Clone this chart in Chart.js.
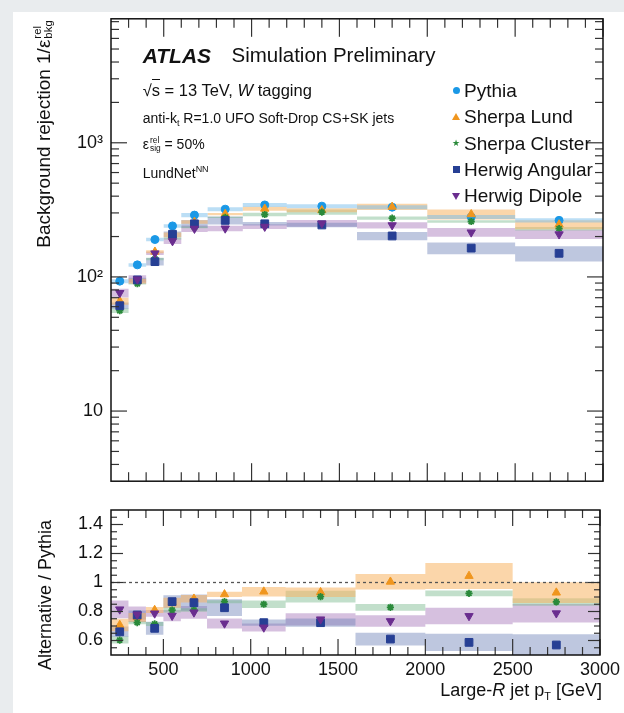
<!DOCTYPE html>
<html><head><meta charset="utf-8">
<script src="https://cdn.jsdelivr.net/npm/chart.js@4.4.0/dist/chart.umd.min.js"></script>
<style>
body{margin:0;background:#e9ecee;width:624px;height:713px;overflow:hidden;position:relative;font-family:"Liberation Sans",Arial,sans-serif;color:#111}
#panel{position:absolute;left:13px;top:12px;width:611px;height:701px;background:#fff}
canvas{position:absolute;left:0}
.t{position:absolute;white-space:nowrap;line-height:1}
.ss{display:inline-flex;flex-direction:column;vertical-align:middle;font-size:0.6em;line-height:0.95;position:relative;top:-0.15em;margin-left:1px}
.rot{position:absolute;white-space:nowrap;line-height:1;transform:translate(-50%,-50%) rotate(-90deg)}
.mk{position:absolute;width:0;height:0}
</style></head><body>
<div id="panel"></div>
<canvas id="topc" width="624" height="500" style="top:0"></canvas>
<canvas id="botc" width="624" height="223" style="top:490px"></canvas>

<div class="t" style="left:142.7px;top:44.5px;font-size:21px;font-weight:bold;font-style:italic">ATLAS</div>
<div class="t" style="left:231.5px;top:45px;font-size:20.5px">Simulation Preliminary</div>
<div class="t" style="left:142.7px;top:82px;font-size:16.5px">√<span style="border-top:1px solid #111;padding-top:1px">s</span> = 13 TeV, <i>W</i> tagging</div>
<div class="t" style="left:142.7px;top:111.4px;font-size:14px">anti-k<sub style="font-size:9px;vertical-align:-3px">t</sub> R=1.0 UFO Soft-Drop CS+SK jets</div>
<div class="t" style="left:142.7px;top:137px;font-size:14px">ε<span class="ss"><span>rel</span><span>sig</span></span> = 50%</div>
<div class="t" style="left:142.7px;top:164.8px;font-size:14px">LundNet<sup style="font-size:9px;vertical-align:6px">NN</sup></div>

<div class="rot" style="left:45px;top:134px;font-size:19px">Background rejection 1/ε<span class="ss"><span>rel</span><span>bkg</span></span></div>
<div class="rot" style="left:45px;top:595px;font-size:18px">Alternative / Pythia</div>
<div class="t" style="right:22px;top:681px;font-size:18px">Large-<i>R</i> jet p<sub style="font-size:11px;vertical-align:-4px">T</sub> [GeV]</div>

<div id="legend"></div>

<script>
// ---------------- data ----------------
const binEdges   = [200,300,400,500,600,750,950,1200,1600,2000,2500,3000];
const binCenters = [250,350,450,550,675,850,1075,1400,1800,2250,2750];

const seriesNames = ["Pythia","Sherpa Lund","Sherpa Cluster","Herwig Angular","Herwig Dipole"];

// background rejection (top panel)
const pythia        = [93,123,190,240,289,320,344,337,331,280,264];
const sherpaLund    = [66,93,154,206,257,294,322,314,333,293,246];
const sherpaCluster = [56,89,136,194,234,278,292,304,274,259,229];
const herwigAngular = [61,95,130,208,249,264,249,244,202,164,150];
const herwigDipole  = [76,96,150,185,229,230,237,251,243,215,208];

// ratio to Pythia (bottom panel)
const ratioLund     = [0.707,0.76,0.81,0.86,0.888,0.918,0.937,0.933,1.005,1.045,0.93];
const ratioCluster  = [0.603,0.723,0.714,0.81,0.81,0.868,0.85,0.902,0.829,0.925,0.866];
const ratioAngular  = [0.66,0.776,0.684,0.868,0.861,0.826,0.723,0.723,0.61,0.587,0.569];
const ratioDipole   = [0.815,0.78,0.787,0.771,0.794,0.718,0.69,0.746,0.734,0.769,0.788];

// relative uncertainties (band half-widths)
const uncPythia   = [0.035,0.03,0.03,0.03,0.035,0.035,0.035,0.035,0.035,0.035,0.035];
const uncLund     = [0.06,0.04,0.025,0.04,0.03,0.02,0.035,0.035,0.053,0.086,0.077];
const uncCluster  = [0.04,0.015,0.02,0.02,0.015,0.012,0.03,0.045,0.028,0.022,0.03];
const uncAngular  = [0.055,0.04,0.065,0.05,0.065,0.07,0.03,0.04,0.072,0.1,0.13];
const uncDipole   = [0.075,0.07,0.03,0.05,0.055,0.048,0.04,0.057,0.054,0.075,0.08];

// ticks
const xTickValues    = [500,1000,1500,2000,2500,3000];
const xTickLabels    = ["500","1000","1500","2000","2500","3000"];
const xMinorTicks    = [300,400,600,700,800,900,1100,1200,1300,1400,1600,1700,1800,1900,2100,2200,2300,2400,2600,2700,2800,2900];
const topYTickValues = [10,100,1000];
const topYTickLabels = ["10","10²","10³"];
const topYMinorTicks = [4,5,6,7,8,9,20,30,40,50,60,70,80,90,200,300,400,500,600,700,800,900,2000,3000,4000,5000,6000,7000,8000];
const botYTickValues = [0.6,0.8,1,1.2,1.4];
const botYTickLabels = ["0.6","0.8","1","1.2","1.4"];
const botYMinorTicks = [0.55,0.65,0.7,0.75,0.85,0.9,0.95,1.05,1.1,1.15,1.25,1.3,1.35,1.45];
const ratioRef = [1,1];

// ---------------- styles ----------------
const FONT = '"Liberation Sans", Arial, sans-serif';
const markerColors = ['#1a98e6','#f0961e','#2a8a3a','#263f94','#6a2d8f'];
const bandColors = ['rgba(120,190,235,0.5)','rgba(248,180,100,0.55)','rgba(120,185,140,0.45)','rgba(110,130,185,0.45)','rgba(165,115,185,0.45)'];
const styles = [
  {pointStyle:'circle', r:4, rot:0, bw:1},
  {pointStyle:'triangle', r:4.8, rot:0, bw:1},
  {pointStyle:'star', r:3.6, rot:0, bw:1.8},
  {pointStyle:'rect', r:5.5, rot:0, bw:1},
  {pointStyle:'triangle', r:4.8, rot:180, bw:1},
];

function bandSets(vals, unc, idx) {
  const n = vals.length;
  const pts = s => binEdges.map((x,i)=>{const k=Math.min(i,n-1); return {x, y: vals[k]*(1+s*unc[k])};});
  return [
    {data: pts(1), stepped:'before', borderWidth:0, pointRadius:0, fill:false, order:10+idx, backgroundColor:bandColors[idx], borderColor:'rgba(0,0,0,0)'},
    {data: pts(-1), stepped:'before', borderWidth:0, pointRadius:0, fill:'-1', order:10+idx, backgroundColor:bandColors[idx], borderColor:'rgba(0,0,0,0)'}
  ];
}
function markerSet(vals, idx) {
  const s = styles[idx];
  return {data: binCenters.map((x,i)=>({x, y: vals[i]})), showLine:false, order: idx===0 ? 4 : 3-idx,
    pointStyle:s.pointStyle, pointRadius:s.r, pointRotation:s.rot, pointBorderWidth:s.bw,
    pointBackgroundColor:markerColors[idx], pointBorderColor:markerColors[idx], borderColor:markerColors[idx], backgroundColor:markerColors[idx]};
}

const framePlugin = {
  id:'frame',
  afterDraw(chart, args, o) {
    const {ctx, chartArea:a, scales:{x, y}} = chart;
    ctx.save();
    ctx.strokeStyle = '#333'; ctx.lineWidth = 1.2;
    const seg = (x1,y1,x2,y2)=>{ctx.beginPath(); ctx.moveTo(x1,y1); ctx.lineTo(x2,y2); ctx.stroke();};
    const xt = (vals,len)=>vals.forEach(v=>{const p=x.getPixelForValue(v); seg(p,a.bottom,p,a.bottom-len); seg(p,a.top,p,a.top+len);});
    const yt = (vals,len)=>vals.forEach(v=>{const p=y.getPixelForValue(v); seg(a.left,p,a.left+len,p); seg(a.right,p,a.right-len,p);});
    xt(o.xMajor,o.xMajLen); xt(o.xMinor,o.xMinLen);
    yt(o.yMajor,o.yMajLen); yt(o.yMinor,o.yMinLen);
    ctx.strokeStyle = '#111'; ctx.lineWidth = 1.5;
    ctx.strokeRect(a.left, a.top, a.right-a.left, a.bottom-a.top);
    ctx.restore();
  }
};

const topVals = [pythia, sherpaLund, sherpaCluster, herwigAngular, herwigDipole];
const uncs = [uncPythia, uncLund, uncCluster, uncAngular, uncDipole];
const ratios = [null, ratioLund, ratioCluster, ratioAngular, ratioDipole];

const topDatasets = [];
topVals.forEach((v,i)=>topDatasets.push(...bandSets(v, uncs[i], i)));
topVals.forEach((v,i)=>topDatasets.push(markerSet(v, i)));

const botDatasets = [];
for (let i=1;i<5;i++) botDatasets.push(...bandSets(ratios[i], uncs[i], i));
botDatasets.push({data:[{x:binEdges[0],y:ratioRef[0]},{x:binEdges[binEdges.length-1],y:ratioRef[1]}], borderColor:'#555', borderWidth:1.3, borderDash:[3,3], pointRadius:0, fill:false, order:5});
for (let i=1;i<5;i++) botDatasets.push(markerSet(ratios[i], i));

const noGrid = {display:false, drawTicks:false};
const common = {responsive:false, animation:false, devicePixelRatio:1, events:[],
  plugins:{legend:{display:false}, tooltip:{enabled:false}}};

new Chart(document.getElementById('topc'), {
  type:'line',
  data:{datasets: topDatasets},
  options:{...common,
    layout:{padding:{top:17, right:21, left:0, bottom:0}},
    scales:{
      x:{type:'linear', min:200, max:3000, grid:noGrid, border:{display:false}, ticks:{display:false},
         afterFit(s){s.height=14;}},
      y:{type:'logarithmic', min:3, max:8400, grid:noGrid, border:{display:false},
         ticks:{color:'#111', font:{size:18, family:FONT}, padding:8, callback:(v,i)=>topYTickLabels[i]},
         afterBuildTicks(s){s.ticks = topYTickValues.map(v=>({value:v}));},
         afterFit(s){s.width=111;}}
    },
    plugins:{...common.plugins, frame:{xMajor:xTickValues, xMinor:xMinorTicks, yMajor:topYTickValues, yMinor:topYMinorTicks, xMajLen:18, xMinLen:9, yMajLen:16, yMinLen:8}}
  },
  plugins:[framePlugin]
});

new Chart(document.getElementById('botc'), {
  type:'line',
  data:{datasets: botDatasets},
  options:{...common,
    layout:{padding:{top:20, right:21, left:0, bottom:0}},
    scales:{
      x:{type:'linear', min:200, max:3000, grid:noGrid, border:{display:false},
         ticks:{color:'#111', font:{size:18, family:FONT}, padding:4, maxRotation:0, autoSkip:false, callback:(v,i)=>xTickLabels[i]},
         afterBuildTicks(s){s.ticks = xTickValues.map(v=>({value:v}));},
         afterFit(s){s.height=58;}},
      y:{type:'linear', min:0.5, max:1.5, grid:noGrid, border:{display:false},
         ticks:{color:'#111', font:{size:18, family:FONT}, padding:8, callback:(v,i)=>botYTickLabels[i]},
         afterBuildTicks(s){s.ticks = botYTickValues.map(v=>({value:v}));},
         afterFit(s){s.width=111;}}
    },
    plugins:{...common.plugins, frame:{xMajor:xTickValues, xMinor:xMinorTicks, yMajor:botYTickValues, yMinor:botYMinorTicks, xMajLen:16, xMinLen:8, yMajLen:12, yMinLen:6}}
  },
  plugins:[framePlugin]
});

// legend (HTML text)
const leg = document.getElementById('legend');
seriesNames.forEach((name,i)=>{
  const yc = 90.7 + i*26.4;
  const t = document.createElement('div');
  t.className='t'; t.style.left='464px'; t.style.top=(yc-10)+'px'; t.style.fontSize='19px';
  t.textContent = name; leg.appendChild(t);
  const m = document.createElement('div'); m.className='mk';
  const c = markerColors[i];
  if (i===0) { m.style.cssText=`left:452.5px;top:${yc-3.5}px;width:7px;height:7px;border-radius:50%;background:${c}`; }
  else if (i===1) { m.style.cssText=`left:452px;top:${yc-4}px;border-left:4px solid transparent;border-right:4px solid transparent;border-bottom:7px solid ${c}`; }
  else if (i===2) { m.style.cssText=`left:451px;top:${yc-6}px;width:10px;height:10px;font-size:9px;line-height:10px;text-align:center;color:${c}`; m.textContent='★'; }
  else if (i===3) { m.style.cssText=`left:452.5px;top:${yc-3.5}px;width:7px;height:7px;background:${c}`; }
  else { m.style.cssText=`left:452px;top:${yc-3}px;border-left:4px solid transparent;border-right:4px solid transparent;border-top:7px solid ${c}`; }
  leg.appendChild(m);
});
</script>
</body></html>
